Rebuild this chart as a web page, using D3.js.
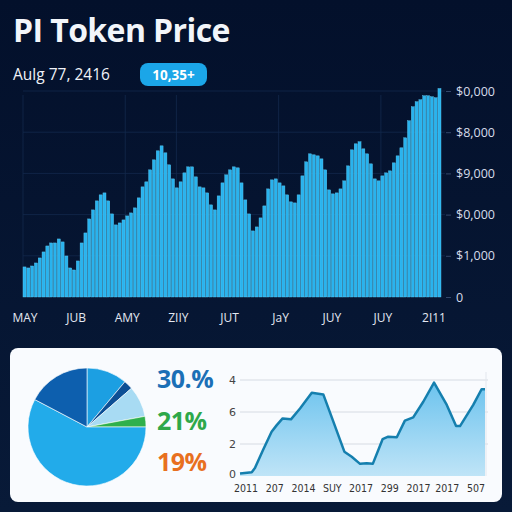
<!DOCTYPE html>
<html><head><meta charset="utf-8">
<script src="https://cdn.jsdelivr.net/npm/d3@7"></script>
<style>html,body{margin:0;padding:0;background:#051530;}svg{display:block;}</style>
</head><body><svg id="c" width="512" height="512"></svg>
<script>
// ---- data ----
const barValues = [730,705,753,826,948,1094,1239,1312,1312,1409,1337,996,705,656,875,1312,1555,1895,2114,2333,
2479,2527,2333,2017,1750,1798,1871,1968,2041,2163,2406,2673,2795,3086,3329,3548,3669,3499,3208,2867,
2649,2795,3013,3159,3159,2916,2673,2649,2527,2236,2114,2454,2770,2965,3086,3159,3135,2770,2357,2017,
1604,1701,1920,2211,2624,2843,2867,2770,2697,2479,2309,2284,2479,2940,3281,3475,3451,3426,3353,3086,
2600,2503,2527,2624,2819,3183,3572,3718,3767,3596,3475,3232,2867,2819,2940,3013,3062,3256,3426,3621,
3864,4277,4617,4739,4787,4884,4884,4860,4836,5060];
const barTickValues = [0,1000,2000,3000,4000,5000];
const barTickLabels = ["0","$1,000","$0,000","$9,000","$8,000","$0,000"];
const barXLabels = ["MAY","JUB","AMY","ZIIY","JUT","JaY","JUY","JUY","2I11"];
const gridLabelIdx = [0,2,3,5,7];

const pieLabels = ["a","b","c","d","e","f"];
const pieValues = [11.1,2.5,8.5,2.9,57.7,17.3];
const pieColors = ["#1c9fe2","#0c4f95","#a8dbf3","#2fb04c","#22abea","#0d5fae"];
const pctLabels = ["30.%","21%","19%"];
const pctColors = ["#1b6fb6","#2ea84a","#e8701f"];

const lineX = [0,4.8,6.1,9.4,12.9,15.0,17.4,20.8,24.5,29.3,34.0,38.1,42.6,45.6,49.0,51.7,54.2,58.2,60.5,64.0,67.3,70.7,74.8,79.2,84.4,88.2,89.8,95.2,98.6,100];
const lineY = [0.08,0.12,0.25,0.81,1.38,1.59,1.80,1.77,2.11,2.60,2.55,1.70,0.76,0.60,0.38,0.40,0.38,1.15,1.23,1.21,1.73,1.83,2.32,2.92,2.22,1.56,1.56,2.22,2.71,2.71];
const lineTickValues = [0,1,2,3];
const lineTickLabels = ["0","2","6","4"];
const lineXLabels = ["2011","207","2014","SUY","2017","299","2017","2017","507"];

// ---- drawing ----
const svg = d3.select("#c");
const defs = svg.append("defs");
const bg = defs.append("linearGradient").attr("id","bg").attr("x1",0).attr("y1",0).attr("x2",0).attr("y2",1);
bg.append("stop").attr("offset","0%").attr("stop-color","#03102b");
bg.append("stop").attr("offset","100%").attr("stop-color","#081a38");
svg.append("rect").attr("width",512).attr("height",512).attr("fill","url(#bg)");

// Title
svg.append("text").attr("x",13).attr("y",42).text("PI Token Price")
  .attr("font-family","Open Sans, sans-serif").attr("font-weight",700).attr("font-size",32)
  .attr("letter-spacing",-0.6).attr("fill","#f2f5fa");
svg.append("text").attr("x",13).attr("y",80).text("Aulg 77, 2416")
  .attr("font-family","Open Sans, sans-serif").attr("font-size",15.5).attr("fill","#f0f3f8");
svg.append("rect").attr("x",140).attr("y",63).attr("width",67).attr("height",23).attr("rx",8)
  .attr("fill","#1ba6e8");
svg.append("text").attr("x",173.5).attr("y",80).attr("text-anchor","middle").text("10,35+")
  .attr("font-family","Open Sans, sans-serif").attr("font-weight",700).attr("font-size",13.5).attr("fill","#ffffff");

// Bar chart
const bx0 = 23, bx1 = 441, by0 = 297, by1 = 91;
const xb = d3.scaleBand().domain(d3.range(barValues.length)).range([bx0,bx1]).paddingInner(0.2).paddingOuter(0);
const yb = d3.scaleLinear().domain([0,5000]).range([by0,by1]);
const xl = d3.scalePoint().domain(d3.range(barXLabels.length)).range([25,434]);

const grid = svg.append("g");
grid.selectAll("line.h").data(barTickValues.slice(1)).join("line")
  .attr("x1",bx0).attr("x2",445).attr("y1",d=>yb(d)).attr("y2",d=>yb(d))
  .attr("stroke","#13284c").attr("stroke-width",0.8);
grid.selectAll("line.v").data(gridLabelIdx).join("line")
  .attr("x1",d=>xl(d)-2).attr("x2",d=>xl(d)-2).attr("y1",95).attr("y2",by0)
  .attr("stroke","#13284c").attr("stroke-width",0.8);

svg.append("g").selectAll("rect").data(barValues).join("rect")
  .attr("x",(d,i)=>xb(i)).attr("width",xb.bandwidth())
  .attr("y",d=>yb(d)).attr("height",d=>by0-yb(d))
  .attr("fill","#29b3ee").attr("stroke","#62cff8").attr("stroke-width",0.4);

const yAxis = d3.axisRight(yb).tickValues(barTickValues).tickFormat((d,i)=>barTickLabels[i]).tickSize(5).tickPadding(5);
const ya = svg.append("g").attr("transform","translate(446,0)").call(yAxis);
ya.select(".domain").remove();
ya.selectAll("line").attr("stroke","#33476a");
ya.selectAll("text").attr("font-family","Open Sans, sans-serif").attr("font-size",12.5).attr("fill","#d6dcea");

svg.append("g").selectAll("text").data(barXLabels).join("text")
  .attr("x",(d,i)=>xl(i)).attr("y",322).attr("text-anchor","middle").text(d=>d)
  .attr("font-family","Open Sans, sans-serif").attr("font-size",12).attr("fill","#e3e8f2");

// Bottom panel
svg.append("rect").attr("x",10).attr("y",348).attr("width",492).attr("height",154).attr("rx",8)
  .attr("fill","#f9fbfe");

// Pie
const pie = d3.pie().sort(null).value(d=>d);
const arc = d3.arc().innerRadius(0).outerRadius(59);
svg.append("g").attr("transform","translate(87,427)").selectAll("path")
  .data(pie(pieValues)).join("path").attr("d",arc)
  .attr("fill",(d,i)=>pieColors[i]).attr("stroke","#ffffff").attr("stroke-width",0.6);

svg.append("g").selectAll("text").data(pctLabels).join("text")
  .attr("x",157).attr("y",(d,i)=>[388,430,471][i]).text(d=>d)
  .attr("font-family","Open Sans, sans-serif").attr("font-weight",700).attr("font-size",25)
  .attr("letter-spacing",-0.5).attr("fill",(d,i)=>pctColors[i]);

// Area chart
const lx = d3.scaleLinear().domain([0,100]).range([240,485]);
const ly = d3.scaleLinear().domain([0,3]).range([476,380]);
svg.append("g").selectAll("line").data(lineTickValues.slice(1)).join("line")
  .attr("x1",240).attr("x2",488).attr("y1",d=>ly(d)).attr("y2",d=>ly(d))
  .attr("stroke","#d6dbe3").attr("stroke-width",1);
svg.append("line").attr("x1",486).attr("x2",486).attr("y1",372).attr("y2",476).attr("stroke","#e3e7ee");
svg.append("g").selectAll("text").data(lineTickValues).join("text")
  .attr("x",229).attr("y",d=>ly(d)+(d===0?2:4)).text((d,i)=>lineTickLabels[i])
  .attr("font-family","DejaVu Sans, sans-serif").attr("font-size",11).attr("fill","#444");

const ag = defs.append("linearGradient").attr("id","ag").attr("x1",0).attr("y1",0).attr("x2",0).attr("y2",1);
ag.append("stop").attr("offset","0%").attr("stop-color","#6cc3ee");
ag.append("stop").attr("offset","100%").attr("stop-color","#bfe4f7");
const pts = lineX.map((x,i)=>[x,lineY[i]]);
svg.append("path").datum(pts)
  .attr("d",d3.area().x(d=>lx(d[0])).y0(ly(0)).y1(d=>ly(d[1])))
  .attr("fill","url(#ag)");
svg.append("path").datum(pts)
  .attr("d",d3.line().x(d=>lx(d[0])).y(d=>ly(d[1])))
  .attr("fill","none").attr("stroke","#157fae").attr("stroke-width",2.5).attr("stroke-linejoin","round");

const lxl = d3.scalePoint().domain(d3.range(lineXLabels.length)).range([246,476]);
svg.append("g").selectAll("text").data(lineXLabels).join("text")
  .attr("x",(d,i)=>lxl(i)).attr("y",492).attr("text-anchor","middle").text(d=>d)
  .attr("font-family","DejaVu Sans Condensed, DejaVu Sans, sans-serif").attr("font-size",10.5).attr("fill","#333");
</script></body></html>
